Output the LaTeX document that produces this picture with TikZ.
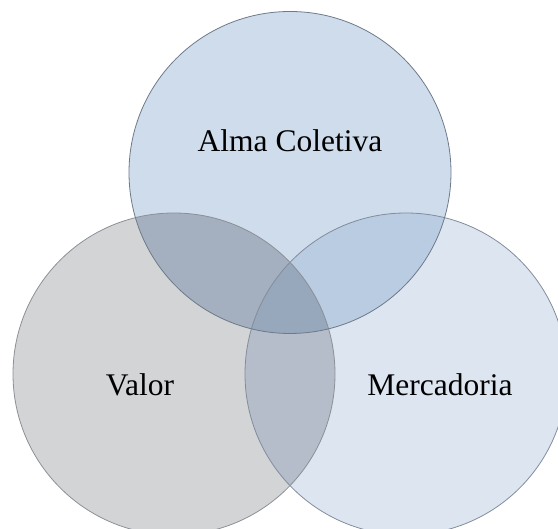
\documentclass[tikz,border=0pt]{standalone}
\usepackage{fontspec}
\setmainfont{Liberation Serif}
\definecolor{cA}{RGB}{207,220,235}
\definecolor{cB}{RGB}{211,212,214}
\definecolor{cC}{RGB}{220,229,240}
\definecolor{cAB}{RGB}{164,176,192}
\definecolor{cAC}{RGB}{186,204,226}
\definecolor{cBC}{RGB}{181,189,202}
\definecolor{cABC}{RGB}{151,167,188}
\definecolor{edgeA}{RGB}{110,122,138}
\definecolor{edgeB}{RGB}{140,144,150}
\definecolor{edgeC}{RGB}{130,140,155}
\tikzset{lbl/.style={anchor=base,font=\fontsize{31.5}{36}\selectfont,inner sep=0pt}}
\begin{document}
\begin{tikzpicture}[x=1pt,y=1pt]
\useasboundingbox (0,0) rectangle (558,529);
\clip (0,0) rectangle (558,529);
\coordinate (A) at (290,356.5);
\coordinate (B) at (174,155);
\coordinate (C) at (406,155);
\def\rr{161}
% base fills
\fill[cB] (B) circle (\rr);
\fill[cC] (C) circle (\rr);
\fill[cA] (A) circle (\rr);
% pair overlaps
\begin{scope}
\clip (A) circle (\rr);
\fill[cAB] (B) circle (\rr);
\fill[cAC] (C) circle (\rr);
\end{scope}
\begin{scope}
\clip (B) circle (\rr);
\fill[cBC] (C) circle (\rr);
\end{scope}
\begin{scope}
\clip (A) circle (\rr);
\clip (B) circle (\rr);
\fill[cABC] (C) circle (\rr);
\end{scope}
% outlines
\draw[edgeB,line width=0.8pt] (B) circle (\rr);
\draw[edgeC,line width=0.8pt] (C) circle (\rr);
\draw[edgeA,line width=0.8pt] (A) circle (\rr);
% labels
\node[lbl] (tA) at (290,377.5) {Alma Coletiva};
\node[lbl] (tB) at (140,133) {Valor};
\node[lbl] (tC) at (440,133) {Mercadoria};
\end{tikzpicture}
\end{document}
